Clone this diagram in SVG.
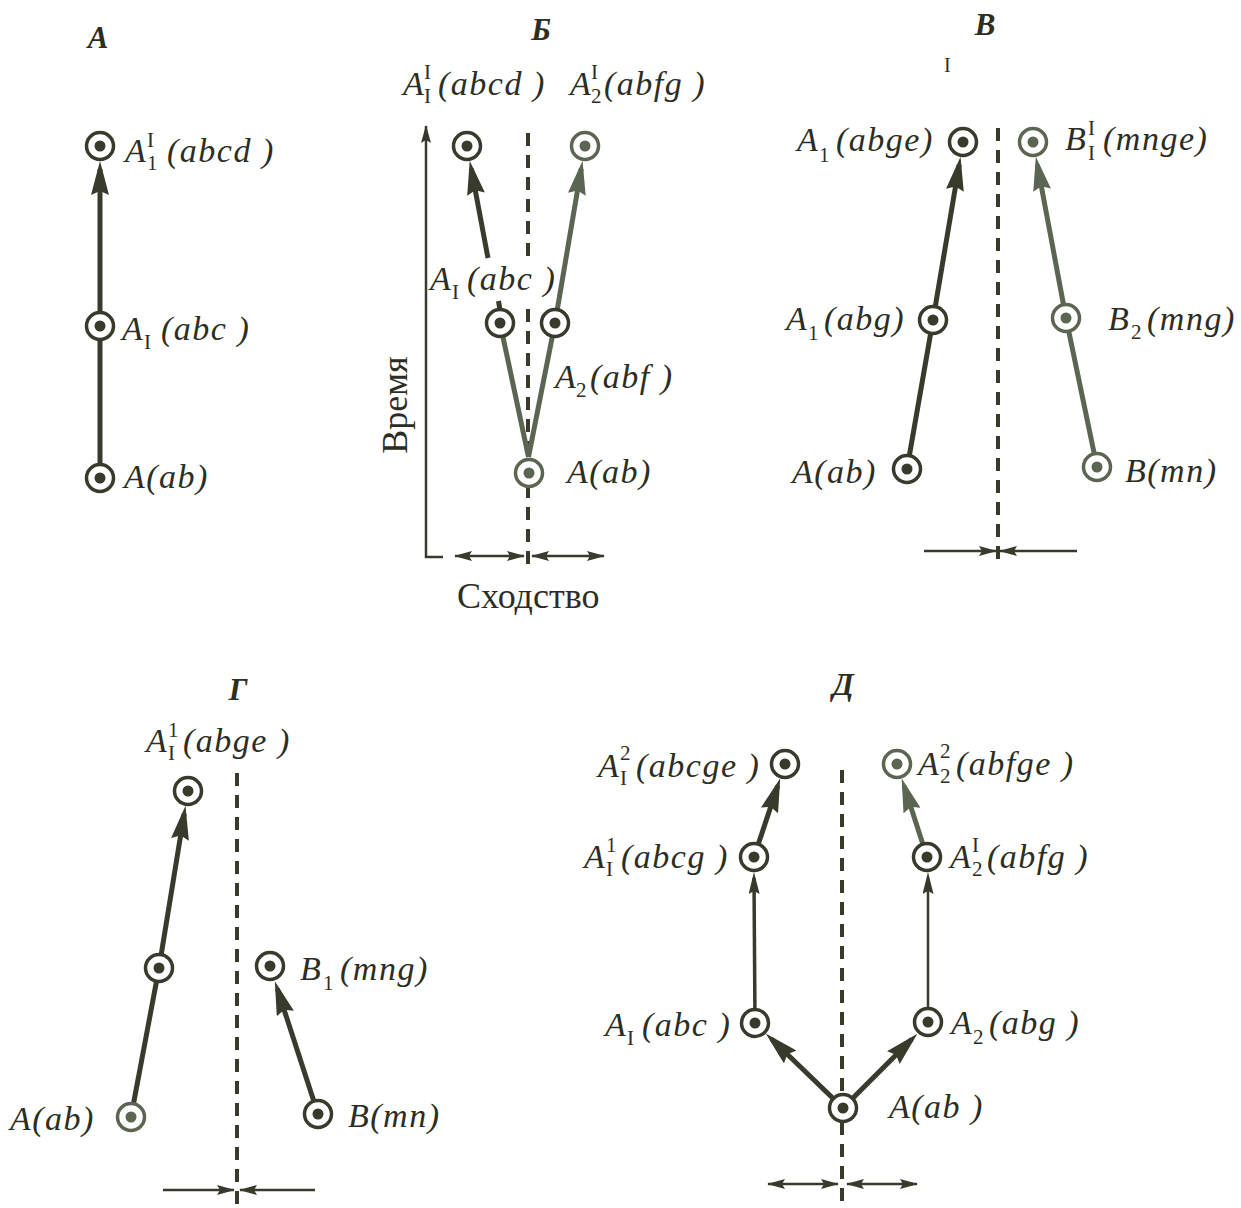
<svg xmlns="http://www.w3.org/2000/svg" width="1241" height="1208" viewBox="0 0 1241 1208">
<style>
.t{font-family:"Liberation Serif",serif;font-style:italic;font-size:34px;fill:#2c2e23;letter-spacing:1.5px}
.s{font-style:normal;font-size:21px;letter-spacing:0}
.ttl{font-family:"Liberation Serif",serif;font-style:italic;font-weight:bold;font-size:31px;fill:#2c2e23;text-anchor:middle}
.ax{font-family:"Liberation Serif",serif;font-size:36px;fill:#2c2e23}
.dk{color:#383a2c}
.lt{color:#5c6552}
.ln{fill:none;stroke:#383a2c;stroke-width:5}
.lnl{fill:none;stroke:#5c6552;stroke-width:5}
.thin{fill:none;stroke:#383a2c;stroke-width:2.5}
.dash{fill:none;stroke:#383a2c;stroke-width:4;stroke-dasharray:13 9}
</style>
<defs>
<g id="nd"><circle r="13.5" fill="#fff" stroke="currentColor" stroke-width="3.5"/><circle r="5.5" fill="currentColor"/></g>
<marker id="ad" markerUnits="userSpaceOnUse" viewBox="0 0 34 18" markerWidth="34" markerHeight="18" refX="26" refY="9" orient="auto"><path d="M0,0 L34,9 L0,18 L4,9 z" fill="#383a2c"/></marker>
<marker id="al" markerUnits="userSpaceOnUse" viewBox="0 0 34 18" markerWidth="34" markerHeight="18" refX="26" refY="9" orient="auto"><path d="M0,0 L34,9 L0,18 L4,9 z" fill="#5c6552"/></marker>
<marker id="am" markerUnits="userSpaceOnUse" viewBox="0 0 22 11" markerWidth="22" markerHeight="11" refX="16" refY="5.5" orient="auto"><path d="M0,0 L22,5.5 L0,11 L3,5.5 z" fill="#383a2c"/></marker>
<marker id="as" markerUnits="userSpaceOnUse" viewBox="0 0 18 10" markerWidth="18" markerHeight="10" refX="17" refY="5" orient="auto-start-reverse"><path d="M0,0 L18,5 L0,10 L3,5 z" fill="#383a2c"/></marker>
</defs>

<g id="titles">
<text class="ttl" x="98" y="48">A</text>
<text class="ttl" x="541" y="40">Б</text>
<text class="ttl" x="985" y="35">В</text>
<text class="ttl" x="238" y="700">Г</text>
<text class="ttl" x="843" y="695">Д</text>
<text x="944" y="72" style="font-family:'Liberation Serif',serif;font-size:20px;fill:#2c2e23">I</text>
</g>

<g id="axes">
<polyline class="thin" points="443,557 426,557 426,126" marker-end="url(#as)"/>
<text class="ax" transform="translate(407,405) rotate(-90)" text-anchor="middle">Время</text>
<text class="ax" x="457" y="608">Сходство</text>
</g>

<g id="connectors">
<!-- A -->
<line class="ln" x1="100" y1="478" x2="100" y2="169" marker-end="url(#ad)"/>
<!-- Б -->
<line class="dash" x1="528" y1="133" x2="528" y2="568"/>
<line class="lnl" x1="528.5" y1="457" x2="500" y2="323"/>
<line class="lnl" x1="528.5" y1="457" x2="555" y2="323"/>
<line class="ln" x1="488" y1="258" x2="471.2" y2="168.6" marker-end="url(#ad)"/>
<line class="ln" x1="500" y1="310" x2="498.5" y2="301"/>
<line class="lnl" x1="555" y1="323" x2="581.2" y2="168.7" marker-end="url(#al)"/>
<line class="thin" x1="455" y1="556" x2="524" y2="556" marker-start="url(#as)" marker-end="url(#as)"/>
<line class="thin" x1="532" y1="556" x2="604" y2="556" marker-start="url(#as)" marker-end="url(#as)"/>
<!-- В -->
<line class="dash" x1="998" y1="128" x2="998" y2="568"/>
<line class="ln" x1="907" y1="469" x2="933" y2="320"/>
<line class="ln" x1="933" y1="320" x2="959.2" y2="164.7" marker-end="url(#ad)"/>
<line class="lnl" x1="1097" y1="467" x2="1066" y2="318"/>
<line class="lnl" x1="1066" y1="318" x2="1037.3" y2="164.6" marker-end="url(#al)"/>
<line class="thin" x1="924" y1="551" x2="996" y2="551" marker-end="url(#as)"/>
<line class="thin" x1="1077" y1="551" x2="1000" y2="551" marker-end="url(#as)"/>
<!-- Г -->
<line class="dash" x1="237" y1="773" x2="237" y2="1208"/>
<line class="ln" x1="131" y1="1117" x2="159" y2="968"/>
<line class="ln" x1="159" y1="968" x2="184.2" y2="813.7" marker-end="url(#ad)"/>
<line class="ln" x1="318" y1="1114" x2="277.3" y2="988.8" marker-end="url(#ad)"/>
<line class="thin" x1="163" y1="1190" x2="234" y2="1190" marker-end="url(#as)"/>
<line class="thin" x1="315" y1="1190" x2="240" y2="1190" marker-end="url(#as)"/>
<!-- Д -->
<line class="dash" x1="842" y1="770" x2="842" y2="1205"/>
<line class="ln" x1="843" y1="1108" x2="771.5" y2="1039" marker-end="url(#ad)"/>
<line class="ln" x1="843" y1="1108" x2="911.7" y2="1039.3" marker-end="url(#ad)"/>
<line class="ln" style="stroke-width:3.5" x1="755" y1="1023" x2="754" y2="878" marker-end="url(#am)"/>
<line class="thin" x1="928" y1="1023" x2="928" y2="878" marker-end="url(#am)"/>
<line class="ln" x1="754" y1="857" x2="777.7" y2="785.8" marker-end="url(#ad)"/>
<line class="lnl" x1="927" y1="857" x2="904.1" y2="785.9" marker-end="url(#al)"/>
<line class="thin" x1="768" y1="1184" x2="838" y2="1184" marker-start="url(#as)" marker-end="url(#as)"/>
<line class="thin" x1="847" y1="1184" x2="917" y2="1184" marker-start="url(#as)" marker-end="url(#as)"/>
</g>

<!-- Panel A nodes -->
<g id="a-top"><use href="#nd" class="dk" x="100" y="146"/>
<text class="t"><tspan x="125" y="162">A</tspan><tspan class="s" x="147" y="147">I</tspan><tspan class="s" x="147" y="170">1</tspan><tspan x="167" y="162">(abcd )</tspan></text></g>
<g id="a-mid"><use href="#nd" class="dk" x="100" y="326"/>
<text class="t"><tspan x="122" y="340">A</tspan><tspan class="s" x="144" y="349">I</tspan><tspan x="161" y="340">(abc )</tspan></text></g>
<g id="a-bot"><use href="#nd" class="dk" x="100" y="478"/>
<text class="t" x="124" y="488">A(ab)</text></g>

<!-- Panel Б nodes -->
<g id="b-mid-l">
<rect x="428" y="262" width="124" height="38" fill="#fff"/>
<use href="#nd" class="dk" x="500" y="323"/>
<text class="t"><tspan x="430" y="290">A</tspan><tspan class="s" x="452" y="299">I</tspan><tspan x="467" y="290">(abc )</tspan></text></g>
<g id="b-top-l"><use href="#nd" class="dk" x="467" y="146"/>
<text class="t"><tspan x="403" y="95">A</tspan><tspan class="s" x="424" y="79">I</tspan><tspan class="s" x="424" y="103">I</tspan><tspan x="438" y="95">(abcd )</tspan></text></g>
<g id="b-top-r"><use href="#nd" class="lt" x="585" y="146"/>
<text class="t"><tspan x="570" y="95">A</tspan><tspan class="s" x="591" y="79">I</tspan><tspan class="s" x="591" y="103">2</tspan><tspan x="604" y="95">(abfg )</tspan></text></g>
<g id="b-mid-r"><use href="#nd" class="dk" x="555" y="323"/>
<text class="t"><tspan x="555" y="388">A</tspan><tspan class="s" x="576" y="397">2</tspan><tspan x="590" y="388">(abf )</tspan></text></g>
<g id="b-bot"><use href="#nd" class="lt" x="529" y="473"/>
<text class="t" x="567" y="483">A(ab)</text></g>

<!-- Panel В nodes -->
<g id="c-top-a"><use href="#nd" class="dk" x="963" y="142"/>
<text class="t"><tspan x="797" y="151">A</tspan><tspan class="s" x="819" y="162">1</tspan><tspan x="836" y="151">(abge)</tspan></text></g>
<g id="c-top-b"><use href="#nd" class="lt" x="1033" y="142"/>
<text class="t"><tspan x="1065" y="150">B</tspan><tspan class="s" x="1088" y="135">I</tspan><tspan class="s" x="1088" y="160">I</tspan><tspan x="1103" y="150">(mnge)</tspan></text></g>
<g id="c-mid-a"><use href="#nd" class="dk" x="933" y="320"/>
<text class="t"><tspan x="786" y="330">A</tspan><tspan class="s" x="808" y="340">1</tspan><tspan x="824" y="330">(abg)</tspan></text></g>
<g id="c-mid-b"><use href="#nd" class="lt" x="1066" y="318"/>
<text class="t"><tspan x="1108" y="330">B</tspan><tspan class="s" x="1131" y="339">2</tspan><tspan x="1147" y="330">(mng)</tspan></text></g>
<g id="c-bot-a"><use href="#nd" class="dk" x="907" y="469"/>
<text class="t" x="792" y="483">A(ab)</text></g>
<g id="c-bot-b"><use href="#nd" class="lt" x="1097" y="467"/>
<text class="t" x="1125" y="482">B(mn)</text></g>

<!-- Panel Г nodes -->
<g id="d-top"><use href="#nd" class="dk" x="188" y="791"/>
<text class="t"><tspan x="146" y="752">A</tspan><tspan class="s" x="168" y="737">1</tspan><tspan class="s" x="168" y="760">I</tspan><tspan x="183" y="752">(abge )</tspan></text></g>
<g id="d-mid"><use href="#nd" class="dk" x="159" y="968"/></g>
<g id="d-bot-a"><use href="#nd" class="lt" x="131" y="1117"/>
<text class="t" x="10" y="1130">A(ab)</text></g>
<g id="d-mid-b"><use href="#nd" class="dk" x="270" y="966"/>
<text class="t"><tspan x="300" y="980">B</tspan><tspan class="s" x="323" y="990">1</tspan><tspan x="340" y="980">(mng)</tspan></text></g>
<g id="d-bot-b"><use href="#nd" class="dk" x="318" y="1114"/>
<text class="t" x="348" y="1127">B(mn)</text></g>

<!-- Panel Д nodes -->
<g id="e-a12"><use href="#nd" class="dk" x="785" y="764"/>
<text class="t"><tspan x="598" y="777">A</tspan><tspan class="s" x="620" y="760">2</tspan><tspan class="s" x="620" y="785">I</tspan><tspan x="636" y="777">(abcge )</tspan></text></g>
<g id="e-a22"><use href="#nd" class="lt" x="897" y="764"/>
<text class="t"><tspan x="918" y="775">A</tspan><tspan class="s" x="940" y="758">2</tspan><tspan class="s" x="940" y="783">2</tspan><tspan x="956" y="775">(abfge )</tspan></text></g>
<g id="e-a11"><use href="#nd" class="dk" x="754" y="857"/>
<text class="t"><tspan x="584" y="868">A</tspan><tspan class="s" x="606" y="852">1</tspan><tspan class="s" x="606" y="876">I</tspan><tspan x="621" y="868">(abcg )</tspan></text></g>
<g id="e-a21"><use href="#nd" class="dk" x="927" y="857"/>
<text class="t"><tspan x="950" y="868">A</tspan><tspan class="s" x="972" y="852">I</tspan><tspan class="s" x="972" y="876">2</tspan><tspan x="987" y="868">(abfg )</tspan></text></g>
<g id="e-a1"><use href="#nd" class="dk" x="755" y="1023"/>
<text class="t"><tspan x="605" y="1036">A</tspan><tspan class="s" x="627" y="1045">I</tspan><tspan x="642" y="1036">(abc )</tspan></text></g>
<g id="e-a2"><use href="#nd" class="dk" x="928" y="1022"/>
<text class="t"><tspan x="951" y="1034">A</tspan><tspan class="s" x="973" y="1044">2</tspan><tspan x="989" y="1034">(abg )</tspan></text></g>
<g id="e-a"><use href="#nd" class="dk" x="843" y="1108"/>
<text class="t" x="889" y="1118">A(ab )</text></g>
</svg>
